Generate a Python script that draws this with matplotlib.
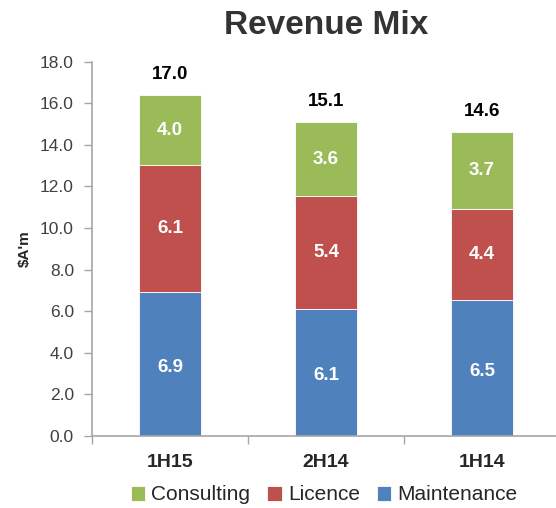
import matplotlib
matplotlib.use("Agg")
import matplotlib.pyplot as plt

plt.rcParams['font.family'] = ['Liberation Sans Narrow', 'Liberation Sans', 'DejaVu Sans']

periods = ['1H15', '2H14', '1H14']
maintenance = [6.93, 6.13, 6.53]
licence = [6.1, 5.4, 4.4]
consulting = [3.35, 3.57, 3.67]
maint_labels = ['6.9', '6.1', '6.5']
lic_labels = ['6.1', '5.4', '4.4']
cons_labels = ['4.0', '3.6', '3.7']
total_labels = ['17.0', '15.1', '14.6']

c_maint = '#4F81BD'
c_lic = '#C0504D'
c_cons = '#9BBB59'

fig = plt.figure(figsize=(5.56, 5.08), dpi=100)
ax = fig.add_axes([92/556, 1-436/508, 468/556, 374.3/508])

x = range(len(periods))
w = 0.40
b1 = ax.bar(x, maintenance, w, color=c_maint, edgecolor='white', linewidth=0.6, label='Maintenance')
bottom2 = maintenance
b2 = ax.bar(x, licence, w, bottom=bottom2, color=c_lic, edgecolor='white', linewidth=0.6, label='Licence')
bottom3 = [m + l for m, l in zip(maintenance, licence)]
b3 = ax.bar(x, consulting, w, bottom=bottom3, color=c_cons, edgecolor='white', linewidth=0.6, label='Consulting')

for i in x:
    ax.text(i, maintenance[i] / 2 - 0.15, maint_labels[i], ha='center', va='center',
            color='white', fontsize=13.5, fontweight='bold')
    ax.text(i, bottom2[i] + licence[i] / 2, lic_labels[i], ha='center', va='center',
            color='white', fontsize=13.5, fontweight='bold')
    ax.text(i, bottom3[i] + consulting[i] / 2, cons_labels[i], ha='center', va='center',
            color='white', fontsize=13.5, fontweight='bold')
    top = bottom3[i] + consulting[i]
    ax.text(i, top + 1.0, total_labels[i], ha='center', va='center',
            color='black', fontsize=13.5, fontweight='bold')

ax.set_xlim(-0.5, 2.5)
ax.set_ylim(0, 18)
ax.set_yticks([i * 2 for i in range(10)])
ax.set_yticklabels(['%.1f' % (i * 2) for i in range(10)])
ax.set_xticks(list(x))
ax.set_xticklabels(periods, fontsize=14, fontweight='bold', color='#262626')
ax.set_xticks([-0.5, 0.5, 1.5, 2.5], minor=True)
ax.tick_params(axis='x', which='major', length=0, pad=13)
ax.tick_params(axis='x', which='minor', length=6, color='#A6A6A6', width=1)
ax.tick_params(axis='y', length=6, color='#A6A6A6', width=1, labelsize=12.5,
               labelcolor='#404040', pad=7)

for s in ['top', 'right']:
    ax.spines[s].set_visible(False)
for s in ['left', 'bottom']:
    ax.spines[s].set_color('#A6A6A6')
    ax.spines[s].set_linewidth(1.2)

ax.set_ylabel("$A'm", fontsize=11, fontweight='bold', color='#262626', labelpad=6)

fig.text(326/556, 1-26/508, 'Revenue Mix', ha='center', va='center',
         fontsize=24, fontweight='bold', color='#333333')

leg = fig.legend(handles=[b3, b2, b1], labels=['Consulting', 'Licence', 'Maintenance'],
                 loc='center', bbox_to_anchor=(324/556, 1-495/508), ncol=3, frameon=False,
                 handlelength=0.7, handleheight=0.7, handletextpad=0.3, columnspacing=0.8,
                 prop={'size': 15})
for t in leg.get_texts():
    t.set_color('#262626')

fig.savefig('out.png', dpi=100)
